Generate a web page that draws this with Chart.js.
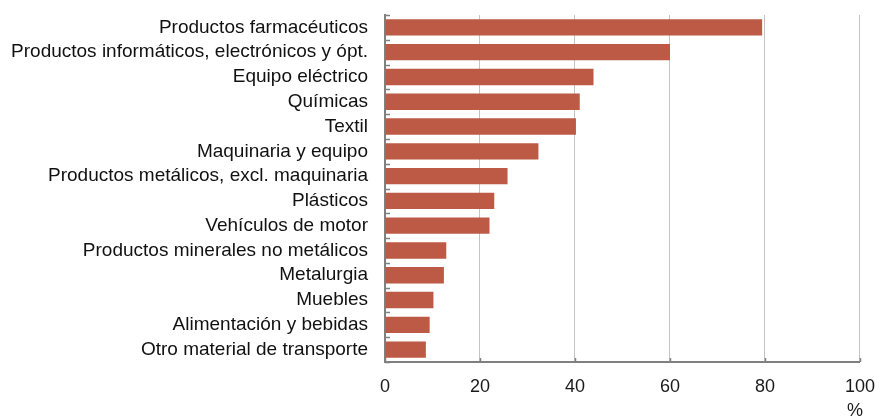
<!DOCTYPE html>
<html>
<head>
<meta charset="utf-8">
<script src="https://cdn.jsdelivr.net/npm/chart.js@4/dist/chart.umd.min.js"></script>
<style>
  html, body { margin: 0; padding: 0; background: #fff; }
  #wrap { width: 875px; height: 419px; position: relative; }
</style>
</head>
<body>
<div id="wrap"><canvas id="bars"></canvas></div>
<script>
// Data
const sectors = [
    'Productos farmacéuticos',
    'Productos informáticos, electrónicos y ópt.',
    'Equipo eléctrico',
    'Químicas',
    'Textil',
    'Maquinaria y equipo',
    'Productos metálicos, excl. maquinaria',
    'Plásticos',
    'Vehículos de motor',
    'Productos minerales no metálicos',
    'Metalurgia',
    'Muebles',
    'Alimentación y bebidas',
    'Otro material de transporte'
];
const shares = [79.4, 60.0, 43.9, 41.0, 40.2, 32.3, 25.8, 23.0, 22.0, 12.9, 12.4, 10.2, 9.4, 8.6];
const xTicks = [0, 20, 40, 60, 80, 100];
const unitLabel = '%';

const axisGrey = '#808080';

// small axis ticks + unit label
const extras = {
    id: 'extras',
    afterDraw(chart) {
        const { ctx, scales: { x, y }, chartArea } = chart;
        ctx.save();
        ctx.strokeStyle = axisGrey;
        ctx.lineWidth = 1.5;
        // category boundary ticks on the y axis (inside)
        const step = y.getPixelForValue(1) - y.getPixelForValue(0);
        for (let i = 0; i <= sectors.length; i++) {
            const yy = Math.round(y.getPixelForValue(i) - step / 2) + 0.5;
            ctx.beginPath();
            ctx.moveTo(chartArea.left, yy);
            ctx.lineTo(chartArea.left + 5, yy);
            ctx.stroke();
        }
        // short ticks on the x axis (inside)
        xTicks.forEach(v => {
            const px = Math.round(x.getPixelForValue(v)) + 0.5;
            ctx.beginPath();
            ctx.moveTo(px, chartArea.bottom);
            ctx.lineTo(px, chartArea.bottom - 4);
            ctx.stroke();
        });
        ctx.fillStyle = '#1a1a1a';
        ctx.font = '18px "Liberation Sans", Arial, sans-serif';
        ctx.textAlign = 'center';
        ctx.textBaseline = 'middle';
        ctx.fillText(unitLabel, x.getPixelForValue(100) - 5, 411);
        ctx.restore();
    }
};

const ctx = document.getElementById('bars').getContext('2d');
new Chart(ctx, {
    type: 'bar',
    data: {
        labels: sectors,
        datasets: [{
            data: shares,
            backgroundColor: '#bc5a45',
            borderWidth: 0,
            categoryPercentage: 0.66,
            barPercentage: 1.0
        }]
    },
    options: {
        indexAxis: 'y',
        responsive: true,
        maintainAspectRatio: false,
        animation: false,
        layout: { padding: { top: 15, right: 15, left: 0, bottom: 0 } },
        plugins: {
            legend: { display: false },
            tooltip: { enabled: false }
        },
        scales: {
            x: {
                min: 0,
                max: 100,
                afterBuildTicks: (scale) => { scale.ticks = xTicks.map(v => ({ value: v })); },
                afterFit: (scale) => { scale.height = 57; },
                grid: {
                    color: (c) => c.tick && c.tick.value === 0 ? 'rgba(0,0,0,0)' : '#c4c4c4',
                    lineWidth: 1,
                    drawTicks: true,
                    tickLength: 14,
                    tickColor: 'rgba(0,0,0,0)'
                },
                border: { color: axisGrey, width: 2 },
                ticks: {
                    color: '#1a1a1a',
                    padding: 0,
                    font: { family: '"Liberation Sans", Arial, sans-serif', size: 18 }
                }
            },
            y: {
                afterFit: (scale) => { scale.width = 385; },
                grid: {
                    display: true,
                    drawOnChartArea: false,
                    drawTicks: true,
                    tickLength: 17,
                    tickColor: 'rgba(0,0,0,0)'
                },
                border: { color: axisGrey, width: 2 },
                ticks: {
                    color: '#111',
                    padding: 0,
                    autoSkip: false,
                    font: { family: '"Liberation Sans", Arial, sans-serif', size: 19 }
                }
            }
        }
    },
    plugins: [extras]
});
</script>
</body>
</html>
